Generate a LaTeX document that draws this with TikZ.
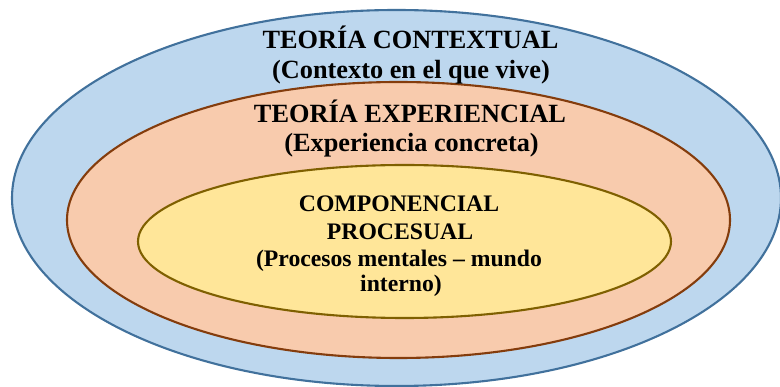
\documentclass[tikz,border=0pt]{standalone}
\usepackage{fontspec}
\setmainfont{Liberation Serif}
\definecolor{outerfill}{HTML}{BDD7EE}
\definecolor{outerline}{HTML}{41719C}
\definecolor{midfill}{HTML}{F8CBAD}
\definecolor{midline}{HTML}{843C0C}
\definecolor{innerfill}{HTML}{FFE699}
\definecolor{innerline}{HTML}{7F6000}
\tikzset{
  ring/.style={line width=2.1pt},
  bigtext/.style={font=\fontsize{26.3}{30}\selectfont\bfseries, anchor=base, inner sep=0pt},
  smalltext/.style={font=\fontsize{23.7}{27}\selectfont\bfseries, anchor=base, inner sep=0pt}
}
\begin{document}
\begin{tikzpicture}[x=1pt,y=-1pt]
\useasboundingbox (0,0) rectangle (780,387);
\fill[white] (0,0) rectangle (780,387);
\draw[ring, draw=outerline, fill=outerfill] (396.5,198) ellipse [x radius=384.5pt, y radius=188pt];
\draw[ring, draw=midline, fill=midfill] (398.5,220) ellipse [x radius=331.5pt, y radius=138pt];
\draw[ring, draw=innerline, fill=innerfill] (404.5,241.5) ellipse [x radius=266.5pt, y radius=76.5pt];
\node[bigtext] (t1) at (410.5,49) {TEORÍA CONTEXTUAL};
\node[bigtext] (t2) at (411,79) {(Contexto en el que vive)};
\node[bigtext] (t3) at (410,123) {TEORÍA EXPERIENCIAL};
\node[bigtext] (t4) at (411.5,152) {(Experiencia concreta)};
\node[smalltext] (c1) at (399,212) {COMPONENCIAL};
\node[smalltext] (c2) at (400,240) {PROCESUAL};
\node[smalltext] (c3) at (399,267) {(Procesos mentales – mundo};
\node[smalltext] (c4) at (401,292) {interno)};
\end{tikzpicture}
\end{document}
